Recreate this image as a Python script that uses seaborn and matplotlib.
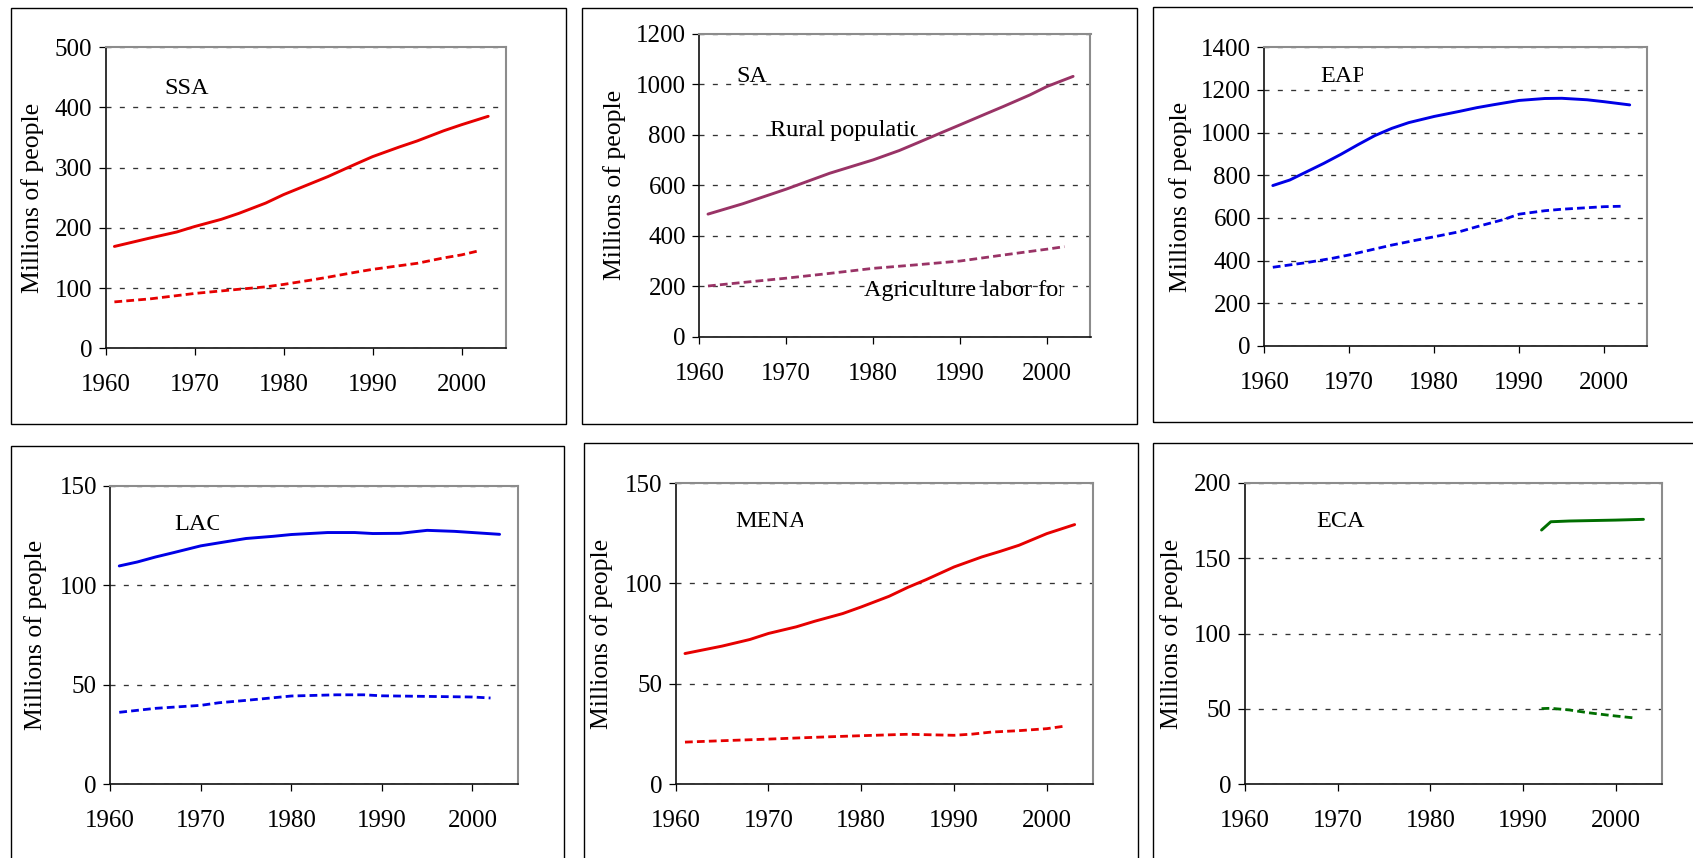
import numpy as np
import pandas as pd
import matplotlib
matplotlib.use("Agg")
import matplotlib.pyplot as plt
import seaborn as sns
from matplotlib.patches import Rectangle
from matplotlib.transforms import Bbox, TransformedBbox

# ---------------- data (millions of people) ----------------
ssa_rural_years = [1961, 1963, 1965, 1968, 1970, 1973, 1975, 1978, 1980, 1983, 1985, 1988, 1990, 1993, 1995, 1998, 2000, 2003]
ssa_rural = [169, 176, 183, 193, 202, 214, 224, 241, 255, 273, 285, 305, 318, 334, 344, 361, 371, 385]
ssa_labor_years = [1961, 1965, 1970, 1975, 1978, 1980, 1983, 1985, 1988, 1990, 1993, 1995, 1998, 2000, 2002]
ssa_labor = [77, 82, 91, 98, 102, 106, 113, 118, 126, 131, 137, 141, 150, 155, 162]

sa_rural_years = [1961, 1965, 1970, 1975, 1980, 1983, 1985, 1988, 1990, 1993, 1995, 1998, 2000, 2003]
sa_rural = [486, 527, 585, 648, 701, 738, 767, 811, 840, 884, 913, 958, 992, 1032]
sa_labor_years = [1961, 1965, 1970, 1975, 1980, 1985, 1990, 1995, 2000, 2002]
sa_labor = [201, 215, 232, 251, 271, 285, 300, 324, 347, 357]

eap_rural_years = [1961, 1963, 1965, 1967, 1969, 1971, 1973, 1975, 1977, 1980, 1983, 1985, 1987, 1990, 1993, 1995, 1998, 2000, 2003]
eap_rural = [752, 778, 817, 856, 898, 943, 986, 1020, 1047, 1076, 1100, 1117, 1131, 1151, 1160, 1161, 1154, 1145, 1130]
eap_labor_years = [1961, 1965, 1968, 1970, 1975, 1978, 1980, 1983, 1985, 1988, 1990, 1993, 1995, 2000, 2002]
eap_labor = [369, 391, 411, 427, 473, 497, 512, 536, 559, 591, 618, 634, 641, 653, 655]

lac_rural_years = [1961, 1963, 1965, 1967, 1970, 1972, 1975, 1978, 1980, 1984, 1987, 1989, 1992, 1995, 1998, 2000, 2003]
lac_rural = [109.8, 111.8, 114.3, 116.5, 119.9, 121.4, 123.6, 124.7, 125.6, 126.6, 126.6, 126.1, 126.2, 127.7, 127.2, 126.6, 125.7]
lac_labor_years = [1961, 1965, 1970, 1972, 1975, 1980, 1985, 1988, 1990, 1995, 2000, 2002]
lac_labor = [36.2, 38.2, 39.7, 41.0, 42.2, 44.4, 45.0, 45.0, 44.5, 44.2, 43.9, 43.4]

mena_rural_years = [1961, 1965, 1968, 1970, 1973, 1975, 1978, 1980, 1983, 1985, 1987, 1990, 1993, 1995, 1997, 2000, 2003]
mena_rural = [65.1, 68.8, 72.1, 75.1, 78.4, 81.2, 85.0, 88.3, 93.6, 98.0, 101.9, 108.2, 113.2, 116.0, 119.0, 124.8, 129.3]
mena_labor_years = [1961, 1965, 1970, 1975, 1980, 1985, 1990, 1992, 1994, 1997, 2000, 2002]
mena_labor = [21.0, 21.7, 22.5, 23.4, 24.2, 24.9, 24.4, 25.0, 26.0, 26.7, 27.7, 29.0]

eca_rural_years = [1992, 1993, 1995, 2000, 2003]
eca_rural = [168.6, 174.1, 174.6, 175.2, 175.7]
eca_labor_years = [1992, 1993, 1995, 1997, 1999, 2000, 2002]
eca_labor = [50.2, 50.4, 49.3, 47.5, 46.0, 45.3, 44.0]

region_names = ["SSA", "SA", "EAP", "LAC", "MENA", "ECA"]
y_maxima = [500, 1200, 1400, 150, 150, 200]
y_steps = [100, 200, 200, 50, 50, 50]
x_ticks = [1960, 1970, 1980, 1990, 2000]
y_label = "Millions of people"
rural_label = "Rural population"
labor_label = "Agriculture labor force"

# ---------------- style ----------------
sns.set_theme(style="white")
plt.rcParams["font.family"] = ["Liberation Serif", "DejaVu Serif"]
plt.rcParams.update({
    "lines.scale_dashes": False,
    "text.color": "black",
    "axes.labelcolor": "black",
    "xtick.color": "black",
    "ytick.color": "black",
})

RED = "#E60000"
BLUE = "#0000E6"
PLUM = "#993366"
GREEN = "#006E00"

W, H, DPI = 1693, 858, 100
fig = plt.figure(figsize=(W / DPI, H / DPI), dpi=DPI)
fig.patch.set_facecolor("white")

# layout in pixels: box, axes (x0, y0, x1, y1), ylabel right edge, title pos (x, baseline), title clip x
panels = [
    dict(box=(11, 8, 566, 424), ax=(105.5, 47, 506, 348.3), ylab=44, title=(164.4, 94), clip=None,
         rural=(ssa_rural_years, ssa_rural), labor=(ssa_labor_years, ssa_labor), color=RED),
    dict(box=(582.3, 8, 1137, 424), ax=(699.3, 34, 1090.5, 336.7), ylab=626, title=(736.8, 82), clip=None,
         rural=(sa_rural_years, sa_rural), labor=(sa_labor_years, sa_labor), color=PLUM),
    dict(box=(1153.3, 7.3, 1720, 422.3), ax=(1264.3, 47.3, 1646.7, 346), ylab=1191.5, title=(1320.7, 82), clip=1363,
         rural=(eap_rural_years, eap_rural), labor=(eap_labor_years, eap_labor), color=BLUE),
    dict(box=(11, 445.7, 564, 900), ax=(110.2, 486, 517.7, 784.3), ylab=47, title=(173.8, 530), clip=219,
         rural=(lac_rural_years, lac_rural), labor=(lac_labor_years, lac_labor), color=BLUE),
    dict(box=(584.3, 443.3, 1138, 900), ax=(675.7, 483, 1093.2, 784.3), ylab=613, title=(735.7, 527), clip=803,
         rural=(mena_rural_years, mena_rural), labor=(mena_labor_years, mena_labor), color=RED),
    dict(box=(1153.3, 443.3, 1720, 900), ax=(1245, 482.7, 1662, 784.3), ylab=1183, title=(1316, 527), clip=None,
         rural=(eca_rural_years, eca_rural), labor=(eca_labor_years, eca_labor), color=GREEN),
]

EM = 17.5 * DPI / 72.0  # em size in px for 17.5pt text


def to_ax(axpx, x, y):
    x0, y0, x1, y1 = axpx
    return (x - x0) / (x1 - x0), (y1 - y) / (y1 - y0)


axes_list = []
for i, p in enumerate(panels):
    bx0, by0, bx1, by1 = p["box"]
    fig.add_artist(Rectangle((bx0 / W, 1 - by1 / H), (bx1 - bx0) / W, (by1 - by0) / H,
                             transform=fig.transFigure, fill=False, edgecolor="black",
                             linewidth=1.0, zorder=0))
    x0, y0, x1, y1 = p["ax"]
    ax = fig.add_axes([x0 / W, 1 - y1 / H, (x1 - x0) / W, (y1 - y0) / H])
    axes_list.append(ax)
    ax.set_facecolor("white")

    ry, rv = p["rural"]
    ly, lv = p["labor"]
    sns.lineplot(x=ry, y=rv, ax=ax, color=p["color"], linewidth=2.1, estimator=None, sort=False)
    sns.lineplot(x=ly, y=lv, ax=ax, color=p["color"], linewidth=2.0, estimator=None, sort=False,
                 linestyle=(0, (5.6, 3.0)))

    ax.set_xlim(1960, 2005)
    ax.set_ylim(0, y_maxima[i])
    ax.set_xticks(x_ticks)
    ax.set_xticklabels([str(t) for t in x_ticks])
    yt = list(range(0, y_maxima[i] + 1, y_steps[i]))
    ax.set_yticks(yt)
    ax.set_yticklabels([str(t) for t in yt])

    ax.yaxis.grid(True, color="#333333", linestyle=(0, (3.6, 6.0)), linewidth=0.95)
    ax.xaxis.grid(False)
    ax.set_axisbelow(True)

    for side in ["top", "right"]:
        ax.spines[side].set_color("#8c8c8c")
        ax.spines[side].set_linewidth(1.5)
        ax.spines[side].set_visible(True)
    for side in ["left", "bottom"]:
        ax.spines[side].set_color("#111111")
        ax.spines[side].set_linewidth(1.2)
        ax.spines[side].set_visible(True)

    ax.tick_params(axis="x", bottom=True, top=False, direction="out", length=5.3, width=0.9,
                   labelsize=18, pad=13.5)
    ax.tick_params(axis="y", left=True, right=False, direction="out", length=5.3, width=0.9,
                   labelsize=18, pad=4.3)

    ax.set_xlabel("")
    ax.set_ylabel(y_label, fontsize=18.5)
    ax.yaxis.set_label_coords((p["ylab"] - x0) / (x1 - x0), 0.5)

    tx, ty = to_ax(p["ax"], *p["title"])
    t = ax.text(tx, ty, region_names[i], transform=ax.transAxes, fontsize=17.5,
                ha="left", va="baseline", clip_on=True)
    if p["clip"] is not None:
        cx, _ = to_ax(p["ax"], p["clip"], 0)
        t.set_clip_box(TransformedBbox(Bbox([[-1, -1], [cx, 2]]), ax.transAxes))

# series labels inside the SA panel (clipped like text boxes)
sa = panels[1]
sa_ax = axes_list[1]
for label, (lx, ly), clip_em in [(rural_label, (769.5, 136), 6.0), (labor_label, (864, 296), 8.12)]:
    tx, ty = to_ax(sa["ax"], lx, ly)
    t = sa_ax.text(tx, ty, label, transform=sa_ax.transAxes, fontsize=17.5,
                   ha="left", va="baseline", clip_on=True)
    cx, _ = to_ax(sa["ax"], lx + clip_em * EM, 0)
    t.set_clip_box(TransformedBbox(Bbox([[-1, -1], [cx, 2]]), sa_ax.transAxes))

fig.savefig("out.png", dpi=DPI, facecolor="white")
